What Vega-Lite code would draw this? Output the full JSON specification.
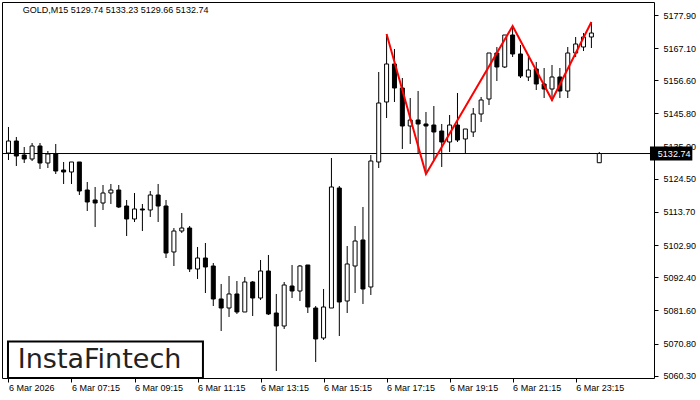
{
  "$schema": "https://vega.github.io/schema/vega-lite/v6.json",
  "width": 652,
  "height": 376,
  "autosize": {"type": "none"},
  "padding": {"left": 2, "top": 2, "right": 46, "bottom": 22},
  "background": "white",
  "config": {
    "view": {"stroke": "black", "strokeWidth": 1},
    "font": "Liberation Sans",
    "axis": {"grid": false, "domain": false, "tickColor": "black", "labelColor": "black", "labelFont": "Liberation Sans", "labelFontSize": 9, "labelFlush": false, "labelOverlap": false, "labelBound": false}
  },
  "datasets": {
    "candles": [
      {"i": 0, "o": 5132.91, "h": 5141.39, "l": 5130.63, "c": 5136.82},
      {"i": 1, "o": 5136.82, "h": 5138.13, "l": 5128.67, "c": 5131.93},
      {"i": 2, "o": 5132.26, "h": 5134.87, "l": 5129.65, "c": 5130.96},
      {"i": 3, "o": 5130.96, "h": 5136.17, "l": 5130.30, "c": 5135.19},
      {"i": 4, "o": 5135.19, "h": 5136.17, "l": 5127.70, "c": 5129.65},
      {"i": 5, "o": 5129.65, "h": 5133.56, "l": 5128.02, "c": 5132.59},
      {"i": 6, "o": 5132.59, "h": 5135.85, "l": 5126.07, "c": 5127.04},
      {"i": 7, "o": 5127.37, "h": 5129.98, "l": 5122.81, "c": 5126.72},
      {"i": 8, "o": 5126.72, "h": 5129.98, "l": 5122.81, "c": 5129.98},
      {"i": 9, "o": 5129.98, "h": 5129.98, "l": 5119.22, "c": 5120.52},
      {"i": 10, "o": 5120.85, "h": 5123.46, "l": 5114.00, "c": 5116.94},
      {"i": 11, "o": 5117.59, "h": 5121.83, "l": 5108.79, "c": 5116.61},
      {"i": 12, "o": 5116.61, "h": 5122.48, "l": 5114.33, "c": 5119.87},
      {"i": 13, "o": 5119.87, "h": 5122.81, "l": 5116.29, "c": 5120.85},
      {"i": 14, "o": 5120.85, "h": 5122.48, "l": 5114.98, "c": 5115.31},
      {"i": 15, "o": 5115.63, "h": 5117.59, "l": 5105.85, "c": 5111.40},
      {"i": 16, "o": 5111.40, "h": 5119.87, "l": 5110.42, "c": 5114.66},
      {"i": 17, "o": 5114.66, "h": 5116.29, "l": 5107.48, "c": 5114.33},
      {"i": 18, "o": 5114.33, "h": 5120.52, "l": 5112.05, "c": 5119.22},
      {"i": 19, "o": 5119.22, "h": 5122.81, "l": 5110.42, "c": 5115.63},
      {"i": 20, "o": 5115.63, "h": 5117.59, "l": 5098.68, "c": 5100.31},
      {"i": 21, "o": 5100.64, "h": 5108.46, "l": 5096.07, "c": 5107.48},
      {"i": 22, "o": 5107.48, "h": 5113.35, "l": 5106.83, "c": 5108.46},
      {"i": 23, "o": 5108.46, "h": 5109.11, "l": 5094.12, "c": 5095.10},
      {"i": 24, "o": 5095.10, "h": 5102.27, "l": 5091.84, "c": 5098.68},
      {"i": 25, "o": 5098.68, "h": 5103.57, "l": 5087.27, "c": 5095.75},
      {"i": 26, "o": 5096.07, "h": 5097.05, "l": 5083.03, "c": 5085.32},
      {"i": 27, "o": 5085.32, "h": 5090.21, "l": 5074.88, "c": 5082.38},
      {"i": 28, "o": 5082.38, "h": 5092.81, "l": 5079.45, "c": 5086.95},
      {"i": 29, "o": 5086.95, "h": 5091.18, "l": 5080.43, "c": 5081.08},
      {"i": 30, "o": 5081.08, "h": 5092.49, "l": 5081.08, "c": 5090.86},
      {"i": 31, "o": 5090.86, "h": 5091.18, "l": 5079.77, "c": 5085.64},
      {"i": 32, "o": 5085.64, "h": 5098.03, "l": 5084.99, "c": 5094.44},
      {"i": 33, "o": 5094.44, "h": 5099.66, "l": 5080.10, "c": 5080.43},
      {"i": 34, "o": 5080.75, "h": 5086.95, "l": 5061.84, "c": 5076.51},
      {"i": 35, "o": 5076.51, "h": 5090.86, "l": 5075.54, "c": 5089.88},
      {"i": 36, "o": 5089.55, "h": 5096.40, "l": 5085.64, "c": 5087.92},
      {"i": 37, "o": 5087.92, "h": 5096.40, "l": 5084.66, "c": 5096.07},
      {"i": 38, "o": 5096.40, "h": 5096.40, "l": 5080.75, "c": 5082.71},
      {"i": 39, "o": 5082.38, "h": 5083.03, "l": 5064.78, "c": 5072.28},
      {"i": 40, "o": 5072.60, "h": 5088.58, "l": 5071.95, "c": 5082.71},
      {"i": 41, "o": 5082.38, "h": 5131.28, "l": 5082.38, "c": 5121.83},
      {"i": 42, "o": 5121.50, "h": 5122.15, "l": 5073.25, "c": 5084.34},
      {"i": 43, "o": 5084.66, "h": 5102.59, "l": 5080.75, "c": 5096.73},
      {"i": 44, "o": 5096.07, "h": 5109.11, "l": 5087.27, "c": 5104.22},
      {"i": 45, "o": 5104.55, "h": 5115.31, "l": 5083.69, "c": 5088.58},
      {"i": 46, "o": 5089.23, "h": 5132.26, "l": 5086.62, "c": 5130.30},
      {"i": 47, "o": 5129.98, "h": 5159.32, "l": 5128.02, "c": 5149.21},
      {"i": 48, "o": 5149.54, "h": 5171.71, "l": 5144.32, "c": 5161.93},
      {"i": 49, "o": 5161.93, "h": 5166.82, "l": 5149.54, "c": 5154.10},
      {"i": 50, "o": 5154.10, "h": 5157.36, "l": 5134.22, "c": 5141.71},
      {"i": 51, "o": 5141.71, "h": 5150.84, "l": 5135.85, "c": 5143.67},
      {"i": 52, "o": 5143.67, "h": 5153.12, "l": 5132.91, "c": 5142.37},
      {"i": 53, "o": 5142.37, "h": 5146.28, "l": 5126.72, "c": 5141.71},
      {"i": 54, "o": 5142.04, "h": 5148.23, "l": 5130.63, "c": 5139.76},
      {"i": 55, "o": 5140.08, "h": 5142.37, "l": 5128.35, "c": 5136.50},
      {"i": 56, "o": 5136.50, "h": 5145.30, "l": 5133.24, "c": 5142.04},
      {"i": 57, "o": 5142.04, "h": 5152.47, "l": 5136.50, "c": 5137.15},
      {"i": 58, "o": 5137.48, "h": 5140.74, "l": 5132.91, "c": 5140.74},
      {"i": 59, "o": 5139.76, "h": 5147.58, "l": 5138.13, "c": 5145.63},
      {"i": 60, "o": 5145.63, "h": 5151.17, "l": 5143.02, "c": 5150.19},
      {"i": 61, "o": 5150.52, "h": 5165.51, "l": 5148.56, "c": 5165.51},
      {"i": 62, "o": 5165.51, "h": 5167.47, "l": 5156.38, "c": 5160.95},
      {"i": 63, "o": 5160.95, "h": 5171.38, "l": 5160.62, "c": 5171.38},
      {"i": 64, "o": 5171.38, "h": 5174.31, "l": 5164.21, "c": 5165.19},
      {"i": 65, "o": 5165.19, "h": 5168.12, "l": 5157.36, "c": 5158.01},
      {"i": 66, "o": 5157.69, "h": 5164.21, "l": 5156.38, "c": 5159.97},
      {"i": 67, "o": 5160.30, "h": 5162.58, "l": 5153.45, "c": 5155.41},
      {"i": 68, "o": 5155.41, "h": 5160.62, "l": 5150.84, "c": 5153.78},
      {"i": 69, "o": 5153.78, "h": 5161.60, "l": 5149.86, "c": 5157.69},
      {"i": 70, "o": 5157.69, "h": 5160.62, "l": 5150.84, "c": 5153.12},
      {"i": 71, "o": 5153.12, "h": 5167.47, "l": 5150.84, "c": 5165.51},
      {"i": 72, "o": 5165.51, "h": 5170.73, "l": 5164.21, "c": 5168.45},
      {"i": 73, "o": 5167.47, "h": 5172.03, "l": 5166.16, "c": 5170.73},
      {"i": 74, "o": 5170.73, "h": 5175.62, "l": 5167.14, "c": 5172.03},
      {"i": 75, "o": 5129.74, "h": 5133.23, "l": 5129.66, "c": 5132.74}
    ],
    "pattern": [
      {"i": 48, "p": 5171.71},
      {"i": 53, "p": 5126.07},
      {"i": 64, "p": 5174.31},
      {"i": 69, "p": 5150.19},
      {"i": 74, "p": 5175.62}
    ],
    "one": [{}]
  },
  "resolve": {"axis": {"x": "independent", "y": "independent"}},
  "layer": [
    {
      "data": {"name": "candles"},
      "mark": {"type": "rule", "color": "black", "strokeWidth": 1},
      "encoding": {
        "x": {"field": "i", "type": "quantitative",
          "scale": {"domain": [-0.1875, 81.3125], "nice": false, "zero": false},
          "axis": {"orient": "bottom", "title": null, "values": [0, 8, 16, 24, 32, 40, 48, 56, 64, 72], "tickSize": 4, "labelAlign": "left", "labelBaseline": "top", "labelPadding": 1,
            "labelExpr": "datum.value == 0 ? '6 Mar 2026' : '6 Mar ' + timeFormat(datetime(2026, 2, 6, 5, 15 + datum.value * 15), '%H:%M')"}},
        "y": {"field": "l", "type": "quantitative",
          "scale": {"domain": [5059.56, 5182.14], "nice": false, "zero": false},
          "axis": {"orient": "right", "title": null, "values": [5060.3, 5070.8, 5081.6, 5092.4, 5102.9, 5113.7, 5124.5, 5135.0, 5145.8, 5156.6, 5167.1, 5177.9], "format": ".2f", "tickSize": 4, "labelPadding": 5, "labelBaseline": "middle"}},
        "y2": {"field": "h"}
      }
    },
    {
      "data": {"name": "one"},
      "mark": {"type": "rule", "color": "black", "strokeWidth": 1},
      "encoding": {"y": {"datum": 5132.74, "type": "quantitative", "axis": null}}
    },
    {
      "data": {"name": "candles"},
      "mark": {"type": "bar", "size": 4, "stroke": "black", "strokeWidth": 1},
      "encoding": {
        "x": {"field": "i", "type": "quantitative", "axis": null},
        "y": {"field": "o", "type": "quantitative", "axis": null},
        "y2": {"field": "c"},
        "fill": {"condition": {"test": "datum.c >= datum.o", "value": "white"}, "value": "black"}
      }
    },
    {
      "data": {"name": "pattern"},
      "mark": {"type": "line", "color": "#ff0000", "strokeWidth": 2},
      "encoding": {
        "x": {"field": "i", "type": "quantitative", "axis": null},
        "y": {"field": "p", "type": "quantitative", "axis": null}
      }
    },
    {
      "data": {"name": "one"},
      "mark": {"type": "rect", "fill": "white", "stroke": "black", "strokeWidth": 2},
      "encoding": {
        "x": {"datum": -0.0625, "type": "quantitative", "axis": null},
        "x2": {"datum": 24.6875},
        "y": {"datum": 5071.46, "type": "quantitative", "axis": null},
        "y2": {"datum": 5059.56}
      }
    },
    {
      "data": {"name": "one"},
      "mark": {"type": "text", "text": "InstaFintech", "font": "DejaVu Sans", "fontSize": 27, "color": "#222222", "align": "center", "baseline": "middle"},
      "encoding": {
        "x": {"datum": 11.5625, "type": "quantitative", "axis": null},
        "y": {"datum": 5065.43, "type": "quantitative", "axis": null}
      }
    },
    {
      "data": {"name": "one"},
      "mark": {"type": "text", "text": "GOLD,M15  5129.74 5133.23 5129.66 5132.74", "font": "Liberation Sans", "fontSize": 9, "color": "#000000", "align": "left", "baseline": "middle"},
      "encoding": {
        "x": {"datum": 1.8125, "type": "quantitative", "axis": null},
        "y": {"datum": 5179.37, "type": "quantitative", "axis": null}
      }
    },
    {
      "data": {"name": "one"},
      "mark": {"type": "rect", "color": "black"},
      "encoding": {
        "x": {"datum": 81.4375, "type": "quantitative", "axis": null},
        "x2": {"datum": 86.8125},
        "y": {"datum": 5135.0, "type": "quantitative", "axis": null},
        "y2": {"datum": 5130.48}
      }
    },
    {
      "data": {"name": "one"},
      "mark": {"type": "text", "text": "5132.74", "font": "Liberation Sans", "fontSize": 9, "color": "white", "align": "left", "baseline": "middle"},
      "encoding": {
        "x": {"datum": 82.4375, "type": "quantitative", "axis": null},
        "y": {"datum": 5132.74, "type": "quantitative", "axis": null}
      }
    }
  ]
}
